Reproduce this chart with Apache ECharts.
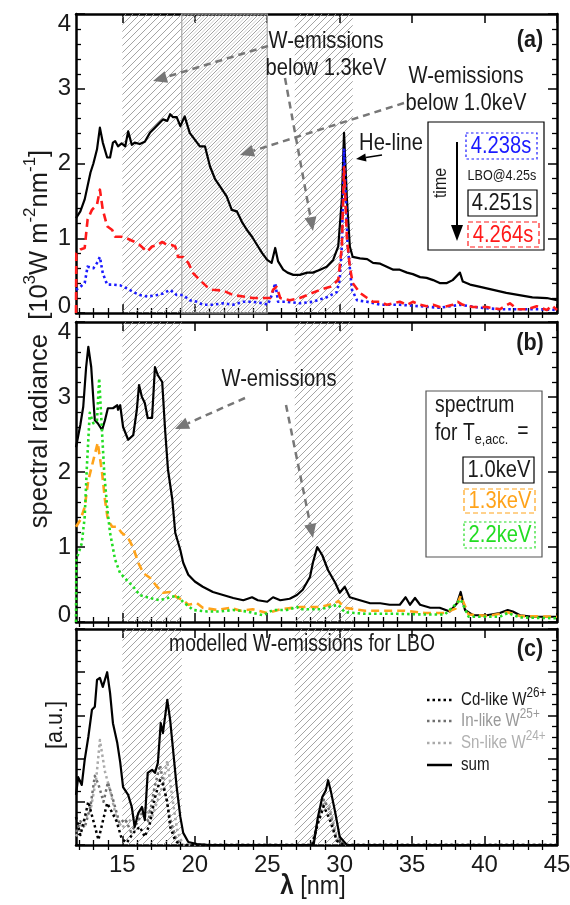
<!DOCTYPE html>
<html><head><meta charset="utf-8">
<script src="https://cdn.jsdelivr.net/npm/echarts@6/dist/echarts.min.js"></script>
<style>html,body{margin:0;padding:0;background:#fff}#c{width:570px;height:905px}</style>
</head><body><div id="c"></div>
<script>
const FONT = "'Liberation Sans Narrow','Arial Narrow','Liberation Sans',sans-serif";

// ---- tick values ----
const xMajor = [15, 20, 25, 30, 35, 40, 45];
const xMinor = [12,13,14,16,17,18,19,21,22,23,24,26,27,28,29,31,32,33,34,36,37,38,39,41,42,43,44];
const xRange = [11.8, 45];
const yRangeAB = [0, 4];
const yRangeC = [0, 5];

// ---- hatched wavelength bands [nm] ----
const bandsA = [[15, 25], [26.9, 30.9]];
const bandsA2 = [[19.1, 25]];
const bandsBC = [[15, 19.1], [26.9, 30.9]];

// ---- panel (a): spectra at different times [nm, 10^3 W m^-2 nm^-1] ----
const a4251 = [[11.8,1.27],[12.1,1.36],[12.4,1.52],[12.8,1.88],[13.0,2.0],[13.25,2.19],[13.45,2.48],[13.65,2.28],[13.95,2.08],[14.15,2.08],[14.35,2.28],[14.5,2.3],[14.7,2.23],[14.95,2.27],[15.2,2.23],[15.4,2.43],[15.65,2.25],[15.85,2.28],[16.2,2.26],[16.55,2.29],[16.9,2.41],[17.25,2.48],[17.6,2.55],[17.8,2.59],[18.1,2.57],[18.3,2.66],[18.5,2.62],[18.75,2.62],[19.0,2.5],[19.3,2.63],[19.65,2.41],[20.0,2.32],[20.35,2.23],[20.7,2.23],[21.05,1.96],[21.4,1.79],[21.75,1.69],[22.2,1.56],[22.55,1.38],[22.9,1.36],[23.25,1.22],[23.6,1.11],[23.95,1.02],[24.3,0.91],[24.65,0.8],[25.0,0.71],[25.3,0.67],[25.55,0.87],[25.75,0.69],[26.1,0.58],[26.4,0.54],[26.8,0.51],[27.25,0.51],[27.75,0.54],[28.15,0.54],[28.65,0.58],[29.1,0.62],[29.55,0.71],[29.9,0.89],[30.15,1.52],[30.3,2.41],[30.5,1.52],[30.7,0.89],[30.9,0.75],[31.4,0.73],[31.9,0.72],[32.3,0.67],[32.8,0.66],[33.25,0.62],[33.7,0.58],[34.15,0.58],[34.65,0.54],[35.05,0.52],[35.55,0.48],[36.0,0.47],[36.45,0.44],[36.9,0.4],[37.4,0.4],[37.8,0.44],[38.3,0.54],[38.5,0.42],[39.0,0.38],[39.7,0.35],[40.6,0.31],[41.5,0.27],[42.4,0.24],[43.3,0.21],[44.3,0.2],[45,0.17]];
const a4264 = [[11.8,0],[11.82,0.8],[12.1,0.85],[12.4,0.87],[12.6,1.25],[12.9,1.38],[13.25,1.45],[13.45,1.65],[13.65,1.38],[13.95,1.16],[14.3,1.11],[14.5,1.02],[14.95,1.02],[15.3,1.0],[15.75,0.96],[16.2,0.91],[16.7,0.82],[17.05,0.89],[17.4,0.91],[17.75,0.95],[18.1,0.91],[18.4,0.91],[18.65,0.89],[18.85,0.75],[19.2,0.75],[19.55,0.67],[19.9,0.53],[20.35,0.44],[20.85,0.35],[21.25,0.31],[21.95,0.3],[22.65,0.24],[23.35,0.22],[24.0,0.2],[24.7,0.2],[25.2,0.2],[25.4,0.31],[25.65,0.35],[25.9,0.2],[26.55,0.17],[27.25,0.2],[27.75,0.24],[28.65,0.31],[29.35,0.35],[29.9,0.44],[30.15,0.89],[30.3,1.95],[30.5,1.0],[30.7,0.62],[30.9,0.4],[31.4,0.27],[31.9,0.2],[32.3,0.15],[32.8,0.15],[33.25,0.11],[33.7,0.13],[34.15,0.15],[34.65,0.11],[35.05,0.15],[35.55,0.11],[36.0,0.09],[36.45,0.11],[36.9,0.08],[37.4,0.09],[37.8,0.11],[38.15,0.15],[38.5,0.11],[39.2,0.08],[40.15,0.08],[41.05,0.05],[41.75,0.13],[42.25,0.05],[42.95,0.05],[43.6,0.09],[44.3,0.04],[44.65,0.1],[45,0.04]];
const a4238 = [[11.8,0.31],[12.1,0.35],[12.4,0.4],[12.6,0.62],[13.0,0.6],[13.25,0.67],[13.45,0.75],[13.65,0.53],[13.95,0.38],[14.35,0.38],[14.85,0.37],[15.3,0.33],[15.75,0.28],[16.2,0.24],[16.75,0.22],[17.4,0.24],[17.8,0.26],[18.3,0.31],[18.75,0.24],[19.2,0.24],[19.65,0.17],[20.15,0.15],[20.55,0.11],[21.25,0.11],[21.95,0.13],[22.65,0.11],[23.35,0.15],[24.0,0.15],[24.7,0.13],[25.05,0.11],[25.35,0.26],[25.55,0.4],[25.75,0.15],[26.35,0.15],[27.25,0.13],[28.15,0.15],[29.1,0.21],[29.8,0.28],[30.0,0.44],[30.15,0.9],[30.3,2.2],[30.55,0.9],[30.85,0.31],[31.2,0.17],[31.9,0.15],[32.8,0.11],[34.15,0.11],[35.55,0.09],[36.9,0.07],[38.3,0.11],[39.7,0.07],[41.05,0.05],[42.45,0.05],[43.8,0.05],[45,0.04]];

// ---- panel (b): spectra for different T_e,acc. ----
const b10 = [[11.8,2.33],[12.1,2.63],[12.3,2.87],[12.5,3.4],[12.65,3.67],[12.85,3.4],[13.0,2.96],[13.1,2.69],[13.3,2.65],[13.6,2.56],[13.8,2.69],[14.0,2.85],[14.35,2.85],[14.65,2.89],[14.7,2.83],[14.85,2.89],[15.05,2.6],[15.4,2.43],[15.75,2.49],[16.0,2.83],[16.15,3.16],[16.35,3.0],[16.55,2.92],[16.75,2.72],[17.05,2.72],[17.25,3.4],[17.45,3.29],[17.75,3.2],[17.95,2.56],[18.15,2.03],[18.45,1.63],[18.65,1.19],[19.0,0.96],[19.2,0.79],[19.55,0.63],[20.0,0.54],[20.55,0.47],[21.25,0.4],[21.95,0.36],[22.65,0.32],[23.35,0.29],[23.95,0.33],[24.35,0.29],[25.0,0.27],[25.4,0.33],[25.9,0.29],[26.55,0.31],[27.05,0.36],[27.45,0.43],[27.95,0.6],[28.15,0.79],[28.45,1.0],[28.8,0.89],[29.2,0.69],[29.7,0.52],[30.0,0.39],[30.35,0.47],[30.7,0.33],[31.4,0.29],[32.1,0.25],[32.8,0.25],[33.45,0.23],[34.15,0.23],[34.55,0.33],[34.85,0.23],[35.2,0.32],[35.55,0.23],[36.25,0.19],[36.9,0.19],[37.6,0.14],[38.1,0.25],[38.35,0.4],[38.65,0.16],[39.2,0.09],[40.15,0.09],[41.05,0.12],[41.6,0.16],[41.95,0.14],[42.45,0.09],[43.35,0.07],[44.3,0.07],[45,0.07]];
const b13 = [[11.8,1.27],[12.1,1.36],[12.4,1.53],[12.65,1.89],[13.0,2.16],[13.3,2.39],[13.6,1.99],[13.8,1.63],[14.0,1.36],[14.3,1.27],[14.65,1.27],[14.95,1.19],[15.4,1.12],[15.75,0.99],[16.1,0.79],[16.45,0.65],[16.9,0.59],[17.4,0.47],[17.8,0.39],[18.3,0.4],[18.75,0.33],[19.2,0.29],[19.55,0.23],[20.15,0.25],[20.55,0.19],[21.55,0.16],[22.45,0.19],[23.15,0.15],[24.0,0.17],[25.0,0.12],[25.9,0.17],[26.8,0.19],[27.25,0.2],[28.65,0.2],[29.7,0.25],[29.9,0.28],[30.35,0.19],[31.75,0.15],[33.1,0.15],[34.5,0.15],[35.9,0.12],[37.25,0.12],[38.0,0.18],[38.35,0.35],[38.9,0.1],[40.25,0.08],[41.6,0.13],[42.45,0.08],[45,0.07]];
const b22 = [[11.8,0],[11.82,0.83],[12.2,1.05],[12.4,1.4],[12.55,2.07],[12.75,2.79],[13.0,2.65],[13.25,2.69],[13.4,3.25],[13.6,2.52],[13.75,1.99],[13.95,1.53],[14.15,1.19],[14.5,0.83],[14.85,0.65],[15.3,0.56],[15.75,0.47],[16.2,0.36],[16.9,0.32],[17.6,0.29],[18.3,0.33],[18.75,0.35],[19.3,0.25],[19.9,0.16],[20.85,0.14],[21.75,0.14],[22.65,0.16],[23.6,0.14],[24.7,0.09],[25.4,0.16],[26.35,0.16],[27.05,0.2],[27.25,0.17],[28.65,0.17],[29.9,0.23],[30.35,0.13],[31.75,0.11],[33.8,0.11],[35.9,0.1],[37.25,0.1],[38.35,0.3],[38.9,0.07],[41.05,0.07],[41.6,0.12],[42.45,0.06],[45,0.05]];

// ---- panel (c): modelled W emissions [a.u.] ----
const cSum = [[11.8,1.16],[11.95,1.57],[12.2,1.39],[12.4,1.97],[12.65,2.5],[12.9,3.13],[13.1,3.2],[13.25,3.82],[13.45,3.87],[13.65,3.66],[13.95,4.0],[14.15,3.52],[14.35,2.82],[14.65,2.36],[14.85,1.92],[15.05,1.34],[15.4,1.16],[15.65,0.88],[15.85,0.42],[16.1,0.74],[16.35,0.88],[16.55,0.58],[16.75,1.67],[17.05,1.74],[17.25,1.67],[17.45,1.9],[17.65,2.82],[17.8,2.59],[18.1,3.36],[18.3,2.89],[18.5,2.2],[18.75,1.34],[19.0,0.65],[19.2,0.28],[19.55,0.07],[20.15,0.02],[21,0],[28.2,0],[28.5,0.65],[28.8,1.11],[29.05,1.27],[29.2,1.5],[29.4,1.23],[29.7,0.74],[30.0,0.19],[30.5,0],[45,0]];
const cCd = [[11.8,0.65],[12.1,0.23],[12.35,0.55],[12.65,1.0],[12.95,0.62],[13.35,0.12],[13.65,0.55],[13.95,0.97],[14.25,0.78],[14.6,0.55],[14.95,0.15],[15.3,0.05],[15.75,0.28],[16.2,0.42],[16.55,0.19],[16.9,0.5],[17.25,1.1],[17.6,1.5],[17.8,1.4],[18.1,1.0],[18.3,0.42],[18.65,0.1],[19.0,0],[28.1,0],[28.5,0.5],[28.9,0.9],[29.3,0.6],[29.8,0.1],[30.3,0],[45,0]];
const cIn = [[11.8,0.3],[12.1,0.55],[12.4,0.4],[12.8,0.9],[13.1,1.6],[13.35,1.4],[13.7,1.0],[14.0,1.45],[14.4,1.0],[14.8,0.5],[15.2,0.6],[15.6,0.3],[16.0,0.5],[16.4,0.75],[16.8,0.55],[17.2,1.3],[17.6,1.85],[17.9,1.3],[18.3,0.6],[18.7,0.15],[19.1,0],[28.1,0],[28.5,0.55],[28.9,1.05],[29.3,0.8],[29.8,0.1],[30.3,0],[45,0]];
const cSn = [[11.8,0.2],[12.3,0.55],[12.8,0.8],[13.2,1.55],[13.45,2.43],[13.8,1.7],[14.2,1.2],[14.6,0.6],[15.0,0.4],[15.4,0.6],[15.8,0.5],[16.2,0.7],[16.6,0.9],[17.0,0.6],[17.4,1.0],[17.8,1.4],[18.1,1.95],[18.4,1.2],[18.8,0.3],[19.2,0],[28.1,0],[28.5,0.6],[28.9,1.0],[29.3,0.9],[29.8,0.2],[30.3,0],[45,0]];

// ---- hatch patterns ----
function hatch(offset, color, lw) {
  const s = 7, c = document.createElement('canvas');
  c.width = s; c.height = s;
  const g = c.getContext('2d');
  g.strokeStyle = color; g.lineWidth = lw;
  for (let k = -1; k <= 1; k++) {
    const o = offset + k * s;
    g.beginPath(); g.moveTo(o - 1, s + 1); g.lineTo(o + s + 1, -1); g.stroke();
  }
  return c;
}
const pat1 = { image: hatch(0, '#9a9a9a', 0.9), repeat: 'repeat' };
const pat2 = { image: hatch(3.5, '#c2c2c2', 0.8), repeat: 'repeat' };

const gridsPos = [
  { left: 76, right: 13, top: 14, height: 299 },
  { left: 76, right: 13, top: 322, height: 300 },
  { left: 76, right: 13, top: 629, height: 216 }
];

const AX = { color: '#000', width: 2.5 };
const xAxes = [], yAxes = [];
gridsPos.forEach((g, gi) => {
  const base = { type: 'value', gridIndex: gi, min: xRange[0], max: xRange[1], splitLine: { show: false },
    axisLine: { show: true, onZero: false, lineStyle: AX } };
  const maj = { show: true, inside: true, length: 9, lineStyle: { color: '#000', width: 1.5 }, customValues: xMajor };
  const mnr = { show: true, inside: true, length: 5, lineStyle: { color: '#000', width: 1.3 }, customValues: xMinor };
  xAxes.push({ ...base, position: 'bottom', axisTick: maj,
    axisLabel: { show: gi === 2, customValues: xMajor, fontSize: 24, color: '#1a1a1a', margin: 8, fontFamily: FONT } });
  xAxes.push({ ...base, position: 'bottom', axisLine: { show: false }, axisTick: mnr, axisLabel: { show: false } });
  xAxes.push({ ...base, position: 'top', axisTick: maj, axisLabel: { show: false } });
  xAxes.push({ ...base, position: 'top', axisLine: { show: false }, axisTick: mnr, axisLabel: { show: false } });
  const yr = gi === 2 ? yRangeC : yRangeAB;
  const ybase = { type: 'value', gridIndex: gi, min: yr[0], max: yr[1], interval: 1, splitLine: { show: false },
    axisLine: { show: true, onZero: false, lineStyle: AX },
    axisTick: { show: true, inside: true, length: 9, lineStyle: { color: '#000', width: 1.5 } },
    minorTick: { show: true, splitNumber: gi === 2 ? 4 : 5, length: 5, lineStyle: { color: '#000', width: 1.3 } } };
  yAxes.push({ ...ybase, position: 'left',
    axisLabel: { show: gi !== 2, fontSize: 24, color: '#1a1a1a', margin: 5, fontFamily: FONT,
      formatter: v => v === 4 ? '{t|4}' : (v === 0 ? '{b|0}' : String(v)),
      rich: { t: { fontSize: 24, fontFamily: FONT, padding: [21, 0, 0, 0] }, b: { fontSize: 24, fontFamily: FONT, padding: [0, 0, 13, 0] } } } });
  yAxes.push({ ...ybase, position: 'right', axisLabel: { show: false } });
});

function band(gi, list, pat, border) {
  return { type: 'line', xAxisIndex: gi * 4, yAxisIndex: gi * 2, data: [], z: 1, silent: true,
    markArea: { silent: true, label: { show: false },
      itemStyle: { color: pat, opacity: 1, borderColor: border ? '#a8a8a8' : 'transparent', borderWidth: border ? 1.2 : 0 },
      data: list.map(b => [{ xAxis: b[0] }, { xAxis: b[1] }]) } };
}
function line(gi, data, color, type, width, z) {
  return { type: 'line', xAxisIndex: gi * 4, yAxisIndex: gi * 2, data, showSymbol: false, symbol: 'none',
    z: z || 3, clip: true, lineStyle: { color, width, type, cap: 'butt', join: 'round' } };
}
const DASH = [8, 5], DOT = [2.5, 3];
const series = [
  band(0, bandsA, pat1, false), band(0, bandsA2, pat2, true),
  band(1, bandsBC, pat1, false), band(2, bandsBC, pat1, false),
  line(0, a4251, '#000', 'solid', 2.2, 3),
  line(0, a4238, '#1a1aff', DOT, 2.6, 4),
  line(0, a4264, '#ff1a1a', DASH, 2.6, 5),
  line(1, b10, '#000', 'solid', 2.2, 3),
  line(1, b13, '#ffa31a', DASH, 2.6, 4),
  line(1, b22, '#22dd22', DOT, 2.6, 5),
  line(2, cSn, '#aaaaaa', DOT, 2.5, 3),
  line(2, cIn, '#707070', DOT, 2.5, 4),
  line(2, cCd, '#000', DOT, 2.5, 5),
  line(2, cSum, '#000', 'solid', 2.2, 6)
];

// ---- annotations ----
const G = [];
const SX = 0.84;
function txt(x, y, text, o) {
  o = o || {};
  G.push({ type: 'text', x, y, rotation: o.rot || 0, scaleX: o.sx || SX, z: 100,
    style: { text, fill: o.color || '#1a1a1a', font: (o.bold ? 'bold ' : '') + (o.size || 24) + 'px ' + FONT,
      fontFamily: FONT, fontSize: o.size || 24, fontWeight: o.bold ? 'bold' : 'normal',
      align: o.align || 'center', verticalAlign: 'middle', rich: o.rich } });
}
function arrow(x1, y1, x2, y2, color, dash, w, hl, hw) {
  const a = Math.atan2(y2 - y1, x2 - x1);
  const bx = x2 - hl * Math.cos(a), by = y2 - hl * Math.sin(a);
  const px = -Math.sin(a) * hw, py = Math.cos(a) * hw;
  G.push({ type: 'line', z: 100, shape: { x1, y1, x2: bx, y2: by }, style: { stroke: color, lineWidth: w, lineDash: dash } });
  G.push({ type: 'polygon', z: 100, shape: { points: [[x2, y2], [bx + px, by + py], [bx - px, by - py]] }, style: { fill: color } });
}
function box(x, y, w, h, color, dash, lw) {
  G.push({ type: 'rect', z: 99, shape: { x, y, width: w, height: h }, style: { fill: '#fff', stroke: color, lineWidth: lw || 1.2, lineDash: dash || null } });
}
function seg(x1, y1, x2, y2, color, dash, w) {
  G.push({ type: 'line', z: 100, shape: { x1, y1, x2, y2 }, style: { stroke: color, lineWidth: w, lineDash: dash || null } });
}
const GREY = '#777';
// panel (a)
txt(326, 41, 'W-emissions'); txt(326, 68, 'below 1.3keV');
txt(466, 76, 'W-emissions'); txt(466, 103, 'below 1.0keV');
arrow(268, 46, 153, 81, GREY, [7, 5], 2.5, 14, 6);
arrow(404, 103, 240, 155, GREY, [7, 5], 2.5, 14, 6);
arrow(285, 78, 313, 231, GREY, [7, 5], 2.5, 14, 6);
txt(391, 143, 'He-line');
arrow(382, 155, 356, 159, '#000', null, 1.5, 10, 4);
txt(530, 40, '(a)', { bold: true, sx: 0.9 });
box(428, 122, 116, 128, '#000', null, 1.2);
txt(441, 183, 'time', { rot: Math.PI / 2, size: 19 });
arrow(457, 142, 457, 241, '#000', null, 2, 16, 6);
box(466, 133, 71, 26, '#1a1aff', [2.5, 2.5], 1.2); txt(501, 146, '4.238s', { color: '#1a1aff' });
txt(502, 176, 'LBO@4.25s', { size: 15 });
box(468, 190, 69, 26, '#000', null, 1.2); txt(502, 203, '4.251s');
box(468, 222, 71, 25, '#ff1a1a', [5, 3], 1.2); txt(503, 235, '4.264s', { color: '#ff1a1a' });
// panel (b)
txt(279, 379, 'W-emissions');
arrow(245, 398, 175, 429, GREY, [7, 5], 2.5, 14, 6);
arrow(286, 405, 313, 538, GREY, [7, 5], 2.5, 14, 6);
txt(530, 343, '(b)', { bold: true, sx: 0.9 });
box(426, 391, 116, 166, '#555', null, 1.2);
txt(435, 406, 'spectrum', { align: 'left', size: 23 });
txt(435, 434, '{n|for T}{s|e,acc.}', { align: 'left', size: 23,
  rich: { n: { fontSize: 23, fontFamily: FONT, fill: '#1a1a1a' }, s: { fontSize: 15, fontFamily: FONT, fill: '#1a1a1a', padding: [12, 0, 0, 0] } } });
txt(523, 432, '=', { size: 23 });
box(463, 457, 71, 26, '#000', null, 1.2); txt(499, 470, '1.0keV');
box(464, 489, 71, 24, '#ffa31a', [5, 3], 1.2); txt(500, 501, '1.3keV', { color: '#ffa31a' });
box(464, 522, 71, 26, '#22dd22', [2.5, 2.5], 1.2); txt(500, 535, '2.2keV', { color: '#22dd22' });
// panel (c)
txt(302, 645, 'modelled W-emissions for LBO', { size: 23 });
txt(530, 649, '(c)', { bold: true, sx: 0.9 });
const legC = [['Cd-like W', '26+', '#1a1a1a', '#000', 700], ['In-like W', '25+', '#999', '#707070', 721], ['Sn-like W', '24+', '#b0b0b0', '#aaaaaa', 743]];
legC.forEach(l => {
  seg(427, l[4], 452, l[4], l[3], DOT, 2.5);
  txt(461, l[4], '{n|' + l[0] + '}{s|' + l[1] + '}', { align: 'left', size: 18,
    rich: { n: { fontSize: 18, fontFamily: FONT, fill: l[2] }, s: { fontSize: 14, fontFamily: FONT, fill: l[2], padding: [0, 0, 14, 0] } } });
});
seg(427, 765, 452, 765, '#000', null, 2.5);
txt(461, 765, 'sum', { align: 'left', size: 18 });
// axis titles
txt(40, 339, '{n|spectral radiance  [10}{s|3}{n|W m}{s|-2}{n|nm}{s|-1}{n|]}', { rot: Math.PI / 2, size: 25.5, sx: 1,
  rich: { n: { fontSize: 25.5, fontFamily: FONT, fill: '#1a1a1a' }, s: { fontSize: 17, fontFamily: FONT, fill: '#1a1a1a', padding: [0, 0, 19, 0] } } });
txt(55, 725, '[a.u.]', { rot: Math.PI / 2, size: 24, sx: 0.9 });
txt(313, 887, '{l|λ}{n| [nm]}', { size: 26, sx: 0.9,
  rich: { l: { fontSize: 27, fontWeight: 'bold', fontFamily: FONT, fill: '#1a1a1a' }, n: { fontSize: 26, fontFamily: FONT, fill: '#1a1a1a' } } });

const chart = echarts.init(document.getElementById('c'), null, { renderer: 'canvas' });
chart.setOption({
  animation: false,
  backgroundColor: '#fff',
  textStyle: { fontFamily: FONT },
  grid: gridsPos.map(g => ({ ...g, outerBoundsMode: 'none', containLabel: false })),
  xAxis: xAxes,
  yAxis: yAxes,
  series,
  graphic: G
});
</script></body></html>
